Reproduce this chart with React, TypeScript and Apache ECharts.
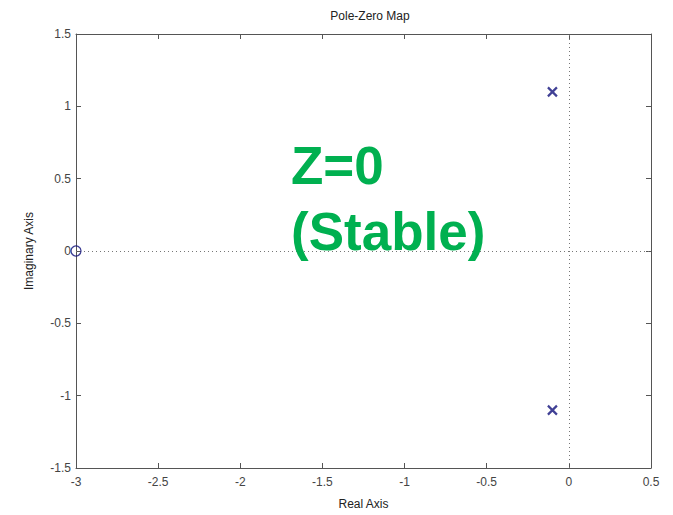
import React, { useEffect, useRef } from "react";
import * as echarts from "echarts";

const xTicks = [-3, -2.5, -2, -1.5, -1, -0.5, 0, 0.5];
const yTicks = [-1.5, -1, -0.5, 0, 0.5, 1, 1.5];
const poles: [number, number][] = [
  [-0.1, 1.1],
  [-0.1, -1.1],
];
const zeros: [number, number][] = [[-3, 0]];
const titleText = "Pole-Zero Map";
const xName = "Real Axis";
const yName = "Imaginary Axis";
const noteLines = ["Z=0", "(Stable)"];

const FONT = "'Liberation Sans', Arial, sans-serif";
const AX = "#555";

export default function App() {
  const ref = useRef<HTMLDivElement>(null);
  useEffect(() => {
    const chart = echarts.init(ref.current!, undefined, { renderer: "svg" });
    const axisCommon = {
      type: "value" as const,
      axisLine: { show: true, onZero: false, lineStyle: { color: AX, width: 1 } },
      axisTick: { show: true, inside: true, length: 5, lineStyle: { color: AX } },
      splitLine: { show: false },
    };
    chart.setOption({
      animation: false,
      backgroundColor: "#fff",
      title: {
        text: titleText,
        left: 365,
        textAlign: "center",
        top: 5,
        textStyle: { fontFamily: FONT, fontSize: 12, fontWeight: "normal", color: "#222" },
      },
      grid: { left: 76, right: 22, top: 34, bottom: 41 },
      xAxis: [
        {
          ...axisCommon,
          position: "bottom",
          min: xTicks[0],
          max: xTicks[xTicks.length - 1],
          interval: 0.5,
          name: xName,
          nameLocation: "middle",
          nameGap: 30,
          nameTextStyle: { fontFamily: FONT, fontSize: 12, color: "#222" },
          axisLabel: { fontFamily: FONT, fontSize: 12, color: "#444", margin: 8 },
        },
        {
          ...axisCommon,
          position: "top",
          min: xTicks[0],
          max: xTicks[xTicks.length - 1],
          interval: 0.5,
          axisLabel: { show: false },
        },
      ],
      yAxis: [
        {
          ...axisCommon,
          position: "left",
          min: yTicks[0],
          max: yTicks[yTicks.length - 1],
          interval: 0.5,
          name: yName,
          nameLocation: "middle",
          nameGap: 41,
          nameRotate: 90,
          nameTextStyle: { fontFamily: FONT, fontSize: 12, color: "#222" },
          axisLabel: { fontFamily: FONT, fontSize: 12, color: "#444", margin: 5 },
        },
        {
          ...axisCommon,
          position: "right",
          min: yTicks[0],
          max: yTicks[yTicks.length - 1],
          interval: 0.5,
          axisLabel: { show: false },
        },
      ],
      series: [
        {
          type: "scatter",
          data: poles,
          symbol: "path://M0,0L10,10M10,0L0,10",
          symbolSize: 9,
          itemStyle: { color: "none", borderColor: "#10107a", borderWidth: 2.2 },
          z: 5,
          markLine: {
            silent: true,
            symbol: "none",
            label: { show: false },
            lineStyle: { type: [1, 3], color: "#777", width: 1 },
            data: [{ xAxis: 0 }, { yAxis: 0 }],
          },
        },
        {
          type: "scatter",
          data: zeros,
          symbol: "circle",
          symbolSize: 10,
          itemStyle: { color: "none", borderColor: "#10107a", borderWidth: 1.3 },
          z: 5,
        },
      ],
      graphic: noteLines.map((t, i) => ({
        type: "text",
        left: 291,
        top: 139 + i * 66,
        z: 10,
        style: {
          text: t,
          fontFamily: FONT,
          fontWeight: "bold",
          fontSize: 53,
          fill: "#00b050",
        },
      })),
    });
    return () => chart.dispose();
  }, []);
  return <div ref={ref} style={{ width: 673, height: 515, position: "absolute", left: 0, top: 0 }} />;
}
